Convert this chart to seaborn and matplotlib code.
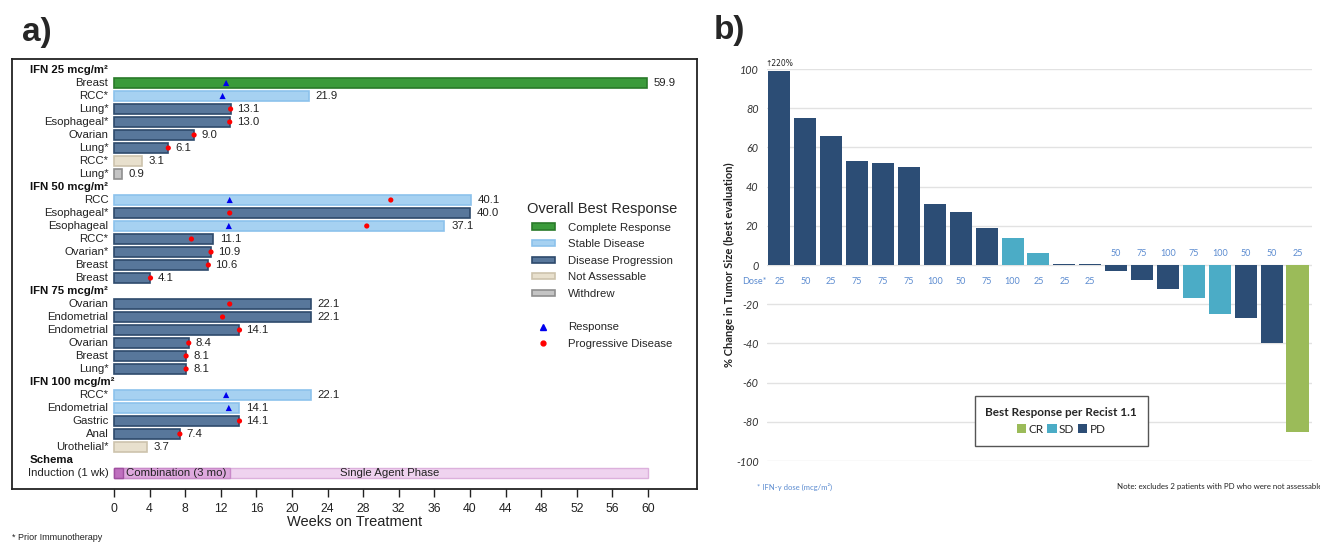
import numpy as np
import pandas as pd
import matplotlib.pyplot as plt
import seaborn as sns
from matplotlib.patches import Patch
from matplotlib.lines import Line2D

# ---------------- panel a data ----------------
group_names = ["IFN 25 mcg/m²", "IFN 50 mcg/m²", "IFN 75 mcg/m²", "IFN 100 mcg/m²"]
group_sizes = [8, 7, 6, 5]
tumors = ["Breast", "RCC*", "Lung*", "Esophageal*", "Ovarian", "Lung*", "RCC*", "Lung*",
          "RCC", "Esophageal*", "Esophageal", "RCC*", "Ovarian*", "Breast", "Breast",
          "Ovarian", "Endometrial", "Endometrial", "Ovarian", "Breast", "Lung*",
          "RCC*", "Endometrial", "Gastric", "Anal", "Urothelial*"]
weeks = [59.9, 21.9, 13.1, 13.0, 9.0, 6.1, 3.1, 0.9,
         40.1, 40.0, 37.1, 11.1, 10.9, 10.6, 4.1,
         22.1, 22.1, 14.1, 8.4, 8.1, 8.1,
         22.1, 14.1, 14.1, 7.4, 3.7]
response = ["Complete Response", "Stable Disease", "Disease Progression", "Disease Progression",
            "Disease Progression", "Disease Progression", "Not Assessable", "Withdrew",
            "Stable Disease", "Disease Progression", "Stable Disease", "Disease Progression",
            "Disease Progression", "Disease Progression", "Disease Progression",
            "Disease Progression", "Disease Progression", "Disease Progression",
            "Disease Progression", "Disease Progression", "Disease Progression",
            "Stable Disease", "Stable Disease", "Disease Progression", "Disease Progression",
            "Not Assessable"]
resp_patient = [0, 1, 8, 10, 21, 22]
resp_week = [12.6, 12.2, 13.0, 12.9, 12.6, 12.9]
prog_patient = [2, 3, 4, 5, 8, 9, 10, 11, 12, 13, 14, 15, 16, 17, 18, 19, 20, 23, 24]
prog_week = [13.1, 13.0, 9.0, 6.1, 31.1, 13.0, 28.4, 8.7, 10.9, 10.6, 4.1,
             13.0, 12.2, 14.1, 8.4, 8.1, 8.1, 14.1, 7.4]
schema_phases = ["Single Agent Phase", "Combination (3 mo)", ""]
schema_weeks = [60, 13, 1]

resp_order = ["Complete Response", "Stable Disease", "Disease Progression",
              "Not Assessable", "Withdrew"]
resp_face = ["#3b9b3b", "#a6d1f1", "#58779b", "#e8e0cd", "#c4c4c4"]
resp_edge = ["#2a7a2a", "#8cc2ec", "#2e4a6c", "#cdc3ad", "#8f8f8f"]
schema_face = ["#efd3ef", "#dea9de", "#bf70bf"]
schema_edge = ["#dcb0dc", "#c98ac9", "#a050a0"]

# ---------------- panel b data ----------------
pct_change = [99, 75, 66, 53, 52, 50, 31, 27, 19, 14, 6, 0.6, 0.6,
              -3, -7.5, -12, -17, -25, -27, -40, -85]
best_resp = ["PD", "PD", "PD", "PD", "PD", "PD", "PD", "PD", "PD", "SD", "SD", "PD", "PD",
             "PD", "PD", "PD", "SD", "SD", "PD", "PD", "CR"]
dose = ["25", "50", "25", "75", "75", "75", "100", "50", "75", "100", "25", "25", "25",
        "50", "75", "100", "75", "100", "50", "50", "25"]
recist_order = ["CR", "SD", "PD"]
recist_colors = ["#9bbb59", "#4bacc6", "#2c4d75"]

sns.set_theme(style="white")
plt.rcParams["font.family"] = ["Liberation Sans", "DejaVu Sans"]

fig = plt.figure(figsize=(13.2, 5.43), dpi=100)
W, H = 1320, 543


def fx(px):
    return px / W


def fy(py):
    return 1 - py / H


FS = 8.2

# ================= panel a =================
ax = fig.add_axes([fx(12), fy(489), fx(697) - fx(12), fy(59) - fy(489)])

rows = []
header_rows = []
r = 0
for g, n in zip(group_names, group_sizes):
    header_rows.append(r)
    r += 1
    for _ in range(n):
        rows.append(r)
        r += 1
schema_header = r
schema_row = r + 1

df_a = pd.DataFrame({"row": rows, "weeks": weeks, "response": response})
sns.barplot(data=df_a, x="weeks", y="row", hue="response", hue_order=resp_order,
            palette=resp_face, saturation=1, orient="h", native_scale=True, dodge=False,
            width=0.8, errorbar=None, legend=False, linewidth=1.2, ax=ax)
for cont, ec in zip(ax.containers, resp_edge):
    for p in cont:
        p.set_edgecolor(ec)

# schema bars
for ph, wk, fc, ec in zip(schema_phases, schema_weeks, schema_face, schema_edge):
    ax.barh(schema_row, wk, height=0.8, left=0, color=fc, edgecolor=ec, linewidth=1)
ax.text(7.0, schema_row, schema_phases[1], ha="center", va="center", fontsize=FS, color="#222")
ax.text(31, schema_row, schema_phases[0], ha="center", va="center", fontsize=FS, color="#222")

# markers
sns.scatterplot(x=prog_week, y=[rows[i] for i in prog_patient], color="#ff0000",
                marker="o", s=14, edgecolor="none", ax=ax, zorder=5)
sns.scatterplot(x=resp_week, y=[rows[i] for i in resp_patient], color="#0000ee",
                marker="^", s=20, edgecolor="none", ax=ax, zorder=5)

# labels
ytr = ax.get_yaxis_transform()
for rr, name, wk in zip(rows, tumors, weeks):
    ax.annotate(name, (0, rr), xytext=(-4, 0), textcoords="offset points",
                ha="right", va="center", fontsize=FS, color="#222")
    ax.annotate(f"{wk:.1f}", (wk, rr), xytext=(5, 0), textcoords="offset points",
                ha="left", va="center", fontsize=FS, color="#222")
for hr, g in zip(header_rows, group_names):
    ax.text(0.026, hr, g, transform=ytr, ha="left", va="center", fontsize=FS,
            fontweight="bold", color="#111")
ax.text(0.026, schema_header, "Schema", transform=ytr, ha="left", va="center",
        fontsize=FS, fontweight="bold", color="#111")
ax.annotate("Induction (1 wk)", (0, schema_row), xytext=(-4, 0), textcoords="offset points",
            ha="right", va="center", fontsize=FS, color="#222")

ax.set_xlim((12 - 114) / 8.9, (697 - 114) / 8.9)
ax.set_ylim((489 - 70) / 13, (59 - 70) / 13)
ax.set_xticks(np.arange(0, 61, 4))
ax.set_yticks([])
ax.tick_params(axis="x", bottom=True, direction="out", length=6, width=1,
               labelsize=8.8, pad=4, colors="#222")
ax.set_xlabel("Weeks on Treatment", fontsize=10.5, labelpad=0, color="#222")
ax.set_ylabel("")
for s in ax.spines.values():
    s.set_color("#222")
    s.set_linewidth(1.3)

handles = [Patch(facecolor=fc, edgecolor=ec, linewidth=1.2, label=lb)
           for lb, fc, ec in zip(resp_order, resp_face, resp_edge)]
handles.append(Line2D([], [], linestyle="none", label=" "))
handles.append(Line2D([], [], linestyle="none", marker="^", color="#0000ee",
                      markersize=4.5, label="Response"))
handles.append(Line2D([], [], linestyle="none", marker="o", color="#ff0000",
                      markersize=3.5, label="Progressive Disease"))
leg = fig.legend(handles=handles, loc="upper left", bbox_to_anchor=(fx(532), fy(202)),
                 frameon=False, title="Overall Best Response", title_fontsize=10.5,
                 fontsize=8.2, handlelength=2.0, handleheight=0.45, handletextpad=1.15,
                 labelspacing=0.58, borderpad=0, borderaxespad=0)
leg._legend_box.align = "left"
leg.get_title().set_position((-5, 0))

fig.text(fx(22), fy(33), "a)", fontsize=24, fontweight="bold", va="center", ha="left")
fig.text(fx(12), fy(538), "* Prior Immunotherapy", fontsize=6.5, va="center", ha="left",
         color="#222")

# ================= panel b =================
fam_b = ["Lato", "DejaVu Sans"]
axb = fig.add_axes([fx(767), fy(461), fx(1312) - fx(767), fy(69) - fy(461)])
pos = list(range(len(pct_change)))
sns.barplot(x=pos, y=pct_change, hue=best_resp, hue_order=recist_order,
            palette=recist_colors, saturation=1, dodge=False, width=0.85, errorbar=None,
            legend=False, linewidth=0, ax=axb)
axb.set_xlim(-0.48, 20.56)
axb.set_ylim(-100, 100)
axb.set_yticks(np.arange(-100, 101, 20))
axb.set_yticklabels([str(v) for v in range(-100, 101, 20)], fontstyle="italic",
                    family=fam_b, fontsize=7.8)
axb.set_xticks([])
axb.grid(axis="y", color="#e2e2e2", linewidth=1)
axb.set_axisbelow(True)
for s in axb.spines.values():
    s.set_visible(False)
axb.tick_params(axis="y", left=False, length=0, pad=6, colors="#333")
axb.set_ylabel("% Change in Tumor Size (best evaluation)", fontsize=8, fontweight="bold",
               family=fam_b, labelpad=1, color="#222")
axb.set_xlabel("")

for p, v, d in zip(pos, pct_change, dose):
    yy = -8.2 if v > 0 else 6.1
    axb.text(p, yy, d, ha="center", va="center", fontsize=6.5, color="#5b8bd0",
             family=fam_b)
axb.text(-0.95, -8.2, "Dose*", ha="center", va="center", fontsize=6.5, color="#5b8bd0",
         family=fam_b, clip_on=False)
axb.text(pos[0], 100.5, "↑220%", ha="center", va="bottom", fontsize=5.5, color="#222",
         family=["DejaVu Sans"], clip_on=False)

hb = [Patch(facecolor=c, edgecolor="none", label=l) for l, c in zip(recist_order, recist_colors)]
legb = axb.legend(handles=hb, loc="center", bbox_to_anchor=(0.54, 0.102), ncol=3,
                  title="Best Response per Recist 1.1", fancybox=False, framealpha=1,
                  edgecolor="#555", handlelength=0.8, handleheight=0.8, handletextpad=0.2,
                  columnspacing=0.3, borderpad=0.9, prop={"family": fam_b, "size": 8.5},
                  title_fontproperties={"family": fam_b, "size": 8.5, "weight": "bold"})
legb.get_frame().set_linewidth(1)

fig.text(fx(757), fy(487), "* IFN-γ dose (mcg/m²)", fontsize=5.5, color="#5b8bd0",
         family=fam_b, va="center", ha="left")
fig.text(fx(1322), fy(487), "Note: excludes 2 patients with PD who were not assessable",
         fontsize=5.7, color="#222", family=fam_b, va="center", ha="right")
fig.text(fx(714), fy(31), "b)", fontsize=24, fontweight="bold", va="center", ha="left")

fig.savefig("out.png", dpi=100)
